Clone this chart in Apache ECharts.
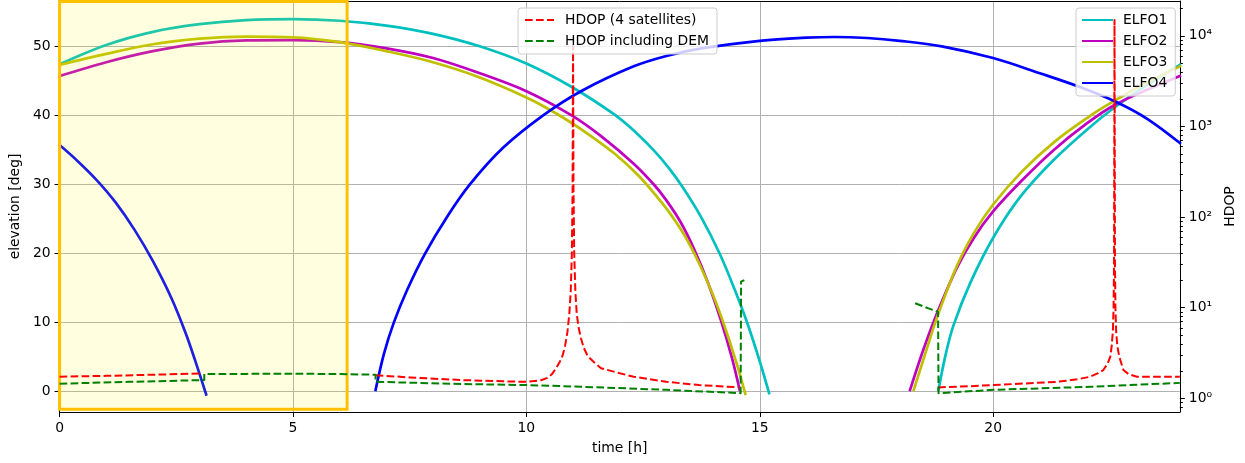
<!DOCTYPE html>
<html>
<head>
<meta charset="utf-8">
<script src="https://cdn.jsdelivr.net/npm/echarts@6/dist/echarts.min.js"></script>
<style>
html,body{margin:0;padding:0;background:#fff;}
#chart{width:1245px;height:463px;}
</style>
</head>
<body>
<div id="chart"></div>
<script>
// ---- axis ticks / labels ----
const TIME_TICKS = [0, 5, 10, 15, 20];
const ELEV_TICKS = [0, 10, 20, 30, 40, 50];
const HDOP_TICKS = [1, 10, 100, 1000, 10000];
const HDOP_TICK_LABELS = ['10\u2070', '10\u00b9', '10\u00b2', '10\u00b3', '10\u2074'];
const HDOP_MINOR_TICKS = [0.8, 0.9, 2, 3, 4, 5, 6, 7, 8, 9, 20, 30, 40, 50, 60, 70, 80, 90,
  200, 300, 400, 500, 600, 700, 800, 900, 2000, 3000, 4000, 5000, 6000, 7000, 8000, 9000, 20000];
const TIME_RANGE = [0, 24];
const ELEV_RANGE = [-2.94, 56.56];
const HDOP_RANGE = [0.706, 24270];

// ---- shaded window [t0, t1, elevBottom, elevTop] ----
const SHADED_WINDOW = [0, 6.16, -2.55, 56.5];

// ---- elevation [deg] passes: [time h, elevation] ----
const ELFO1_PASS1 = [[0,47.4],[1,50.2],[2,52.1],[3,53.2],[4,53.8],[5,53.95],[6,53.7],[7,53.0],[8,51.8],[9,50.0],[10,47.5],[11,44.0],[11.89,40.1],[12.3,37.8],[12.75,34.8],[13.05,32.4],[13.35,29.6],[13.75,25.2],[14.14,20.0],[14.45,15.0],[14.74,9.8],[15.0,4.4],[15.2,-0.2]];
const ELFO1_PASS2 = [[18.83,0.3],[18.98,5.3],[19.15,9.6],[19.52,15.9],[20.01,22.4],[20.58,28.2],[21.29,33.5],[22.02,38.0],[22.57,41.0],[23.25,44.2],[24,47.3]];
const ELFO2_PASS1 = [[0,45.7],[1,47.7],[2,49.3],[3,50.4],[4,50.85],[5,50.9],[6,50.6],[7,49.7],[8,48.3],[9,46.1],[10,43.5],[10.97,40.0],[11.6,37.0],[12.3,33.0],[12.75,29.85],[13.0,27.7],[13.3,24.6],[13.6,20.55],[13.9,15.6],[14.17,10.3],[14.4,5.0],[14.57,0.25]];
const ELFO2_PASS2 = [[18.22,0.25],[18.5,6.0],[18.8,11.4],[19.22,17.9],[19.59,22.3],[20.0,26.1],[20.62,30.6],[21.3,35.0],[22.0,38.8],[22.6,41.5],[23.3,43.7],[24,45.7]];
const ELFO3_PASS1 = [[0,47.3],[1,48.9],[2,50.3],[3,51.1],[4,51.4],[5,51.3],[6,50.6],[7,49.3],[8,47.7],[9,45.5],[10,42.6],[10.66,40.2],[11.3,37.4],[11.9,34.4],[12.4,31.3],[12.8,28.2],[13.1,25.6],[13.4,22.5],[13.7,18.6],[14.0,13.95],[14.25,9.4],[14.5,4.2],[14.69,-0.3]];
const ELFO3_PASS2 = [[18.3,0.25],[18.55,5.6],[18.8,10.8],[19.23,18.3],[19.59,23.0],[20.0,27.1],[20.62,31.9],[21.32,36.2],[22.05,39.8],[22.52,41.8],[23.2,44.4],[24,47.1]];
const ELFO4_PASS1 = [[0,35.7],[0.4,33.3],[0.8,30.6],[1.2,27.4],[1.6,23.5],[2.0,18.9],[2.4,13.5],[2.7,8.5],[2.9,4.6],[3.14,-0.4]];
const ELFO4_PASS2 = [[6.77,0.25],[6.95,5.5],[7.16,10.0],[7.45,14.8],[7.83,20.0],[8.3,25.3],[8.79,30.0],[9.5,35.3],[10.36,40.0],[11.2,43.6],[12.3,47.1],[13,48.6],[13.75,49.7],[15,50.8],[16,51.25],[16.6,51.35],[17.3,51.2],[18,50.8],[18.9,50.0],[20,48.3],[21,46.1],[21.9,44.0],[22.65,41.9],[23.3,39.5],[24,36.0]];

// ---- HDOP passes: [time h, HDOP] ----
const HDOP4_PART1 = [[0,1.73],[1,1.77],[2,1.82],[3.05,1.88]];
const HDOP4_PART2 = [[6.77,1.80],[7.5,1.70],[8.6,1.59],[9.5,1.54],[10.0,1.52],[10.3,1.57],[10.45,1.68],[10.55,1.85],[10.65,2.2],[10.72,2.55],[10.78,3.0],[10.83,3.8],[10.88,5.4],[10.92,8.5],[10.95,15],[10.975,40],[10.99,200],[11.0,7800],[11.01,200],[11.025,40],[11.05,15],[11.08,8.5],[11.12,6.0],[11.17,4.6],[11.23,3.6],[11.32,2.9],[11.45,2.5],[11.6,2.15],[11.9,1.95],[12.3,1.73],[13.0,1.52],[13.7,1.40],[14.55,1.32]];
const HDOP4_PART3 = [[18.82,1.32],[19.5,1.36],[20.0,1.40],[20.7,1.46],[21.37,1.52],[21.8,1.62],[22.08,1.73],[22.25,1.9],[22.36,2.05],[22.45,2.4],[22.51,2.88],[22.54,3.8],[22.565,5.5],[22.58,10],[22.59,30],[22.6,15000],[22.61,30],[22.62,10],[22.635,5.5],[22.66,3.8],[22.7,2.9],[22.79,2.05],[22.9,1.85],[23.08,1.73],[24,1.73]];
const HDOPDEM_PART1 = [[0,1.45],[1.5,1.52],[3.1,1.59],[3.1,1.85],[4,1.86],[5,1.87],[6,1.85],[6.77,1.82],[6.77,1.52],[8.6,1.44],[10,1.40],[11.2,1.34],[13.0,1.24],[14.59,1.14],[14.6,19.4],[14.67,20.2]];
const HDOPDEM_PART2 = [[18.33,11.2],[18.6,9.9],[18.82,9.0],[18.83,1.14],[20.0,1.24],[22.08,1.34],[24,1.48]];

const FONT = 'DejaVu Sans';
const FS = 13.9;
const DASH = [7.7, 3.3];

function elfo(name, color, data) {
  return {
    name: name, type: 'line', xAxisIndex: 0, yAxisIndex: 0, data: data,
    symbol: 'none', smooth: 0.35, z: 2, animation: false, silent: true,
    itemStyle: { color: color },
    lineStyle: { color: color, width: 2.7, cap: 'square', join: 'round' }
  };
}
function hdop(name, color, data) {
  return {
    name: name, type: 'line', xAxisIndex: 0, yAxisIndex: 1, data: data,
    symbol: 'none', z: 5, animation: false, silent: true,
    itemStyle: { color: color },
    lineStyle: { color: color, width: 2, type: DASH, join: 'round' }
  };
}

const series = [
  elfo('ELFO1', '#00bfbf', ELFO1_PASS1), elfo('ELFO1', '#00bfbf', ELFO1_PASS2),
  elfo('ELFO2', '#bf00bf', ELFO2_PASS1), elfo('ELFO2', '#bf00bf', ELFO2_PASS2),
  elfo('ELFO3', '#bfbf00', ELFO3_PASS1), elfo('ELFO3', '#bfbf00', ELFO3_PASS2),
  elfo('ELFO4', '#0000ff', ELFO4_PASS1), elfo('ELFO4', '#0000ff', ELFO4_PASS2),
  {
    type: 'custom', xAxisIndex: 0, yAxisIndex: 0, z: 3, silent: true, animation: false, clip: false,
    data: [SHADED_WINDOW],
    renderItem: function (params, api) {
      const p0 = api.coord([api.value(0), api.value(2)]);
      const p1 = api.coord([api.value(1), api.value(3)]);
      return {
        type: 'rect',
        shape: { x: p0[0], y: p1[1], width: p1[0] - p0[0], height: p0[1] - p1[1] },
        style: { fill: 'rgba(255,255,0,0.12)', stroke: '#ffc000', lineWidth: 3 }
      };
    }
  },
  hdop('HDOP (4 satellites)', '#ff0000', HDOP4_PART1),
  hdop('HDOP (4 satellites)', '#ff0000', HDOP4_PART2),
  hdop('HDOP (4 satellites)', '#ff0000', HDOP4_PART3),
  hdop('HDOP including DEM', '#008000', HDOPDEM_PART1),
  hdop('HDOP including DEM', '#008000', HDOPDEM_PART2)
];

const axisText = { color: '#000', fontFamily: FONT, fontSize: FS };
const blackLine = { show: true, onZero: false, lineStyle: { color: '#000', width: 1 } };
const legendBase = {
  orient: 'vertical', itemWidth: 29, itemHeight: 14, itemGap: 7,
  padding: [5, 8, 6, 6], borderColor: '#cccccc', borderWidth: 1, borderRadius: 3,
  backgroundColor: 'rgba(255,255,255,0.8)', selectedMode: false,
  itemStyle: { opacity: 0 },
  textStyle: { color: '#000', fontFamily: FONT, fontSize: FS, padding: [0, 0, 0, 6] }
};

const option = {
  animation: false,
  textStyle: { fontFamily: FONT },
  grid: { left: 57, right: 65, top: 1, bottom: 51 },
  legend: [
    Object.assign({}, legendBase, { left: 518, top: 8, z: 6, data: ['HDOP (4 satellites)', 'HDOP including DEM'] }),
    Object.assign({}, legendBase, { left: 1076, top: 8, z: 4, data: ['ELFO1', 'ELFO2', 'ELFO3', 'ELFO4'] })
  ],
  xAxis: [
    {
      type: 'value', min: TIME_RANGE[0], max: TIME_RANGE[1], position: 'bottom',
      name: 'time [h]', nameLocation: 'middle', nameGap: 29, nameTextStyle: axisText,
      axisLine: blackLine,
      axisTick: { show: true, customValues: TIME_TICKS, length: 5, lineStyle: { color: '#000' } },
      axisLabel: Object.assign({ customValues: TIME_TICKS, margin: 9 }, axisText),
      splitLine: { show: true, lineStyle: { color: '#b0b0b0', width: 1 } }
    },
    {
      type: 'value', min: TIME_RANGE[0], max: TIME_RANGE[1], position: 'top',
      axisLine: blackLine, axisTick: { show: false }, axisLabel: { show: false }, splitLine: { show: false }
    }
  ],
  yAxis: [
    {
      type: 'value', min: ELEV_RANGE[0], max: ELEV_RANGE[1], position: 'left',
      name: 'elevation [deg]', nameLocation: 'middle', nameGap: 34, nameRotate: 90, nameTextStyle: axisText,
      axisLine: blackLine,
      axisTick: { show: true, customValues: ELEV_TICKS, length: 5, lineStyle: { color: '#000' } },
      axisLabel: Object.assign({ customValues: ELEV_TICKS, margin: 9 }, axisText),
      splitLine: { show: true, lineStyle: { color: '#b0b0b0', width: 1 } }
    },
    {
      type: 'log', logBase: 10, min: HDOP_RANGE[0], max: HDOP_RANGE[1], position: 'right', show: false,
      axisLine: { onZero: false }
    },
    {
      type: 'value', min: Math.log10(HDOP_RANGE[0]), max: Math.log10(HDOP_RANGE[1]), position: 'right',
      name: 'HDOP', nameLocation: 'middle', nameGap: 36, nameRotate: 90, nameTextStyle: axisText,
      axisLine: blackLine,
      axisTick: { show: true, customValues: HDOP_TICKS.map(Math.log10), length: 5, lineStyle: { color: '#000' } },
      axisLabel: Object.assign({
        customValues: HDOP_TICKS.map(Math.log10), margin: 9,
        formatter: function (v) { return HDOP_TICK_LABELS[Math.round(v)]; }
      }, axisText),
      splitLine: { show: false }
    },
    {
      type: 'value', min: Math.log10(HDOP_RANGE[0]), max: Math.log10(HDOP_RANGE[1]), position: 'right',
      axisLine: { show: false, onZero: false },
      axisTick: { show: true, customValues: HDOP_MINOR_TICKS.map(Math.log10), length: 3, lineStyle: { color: '#000' } },
      axisLabel: { show: false }, splitLine: { show: false }
    }
  ],
  series: series
};

const chart = echarts.init(document.getElementById('chart'), null, { renderer: 'canvas' });
chart.setOption(option);
</script>
</body>
</html>
